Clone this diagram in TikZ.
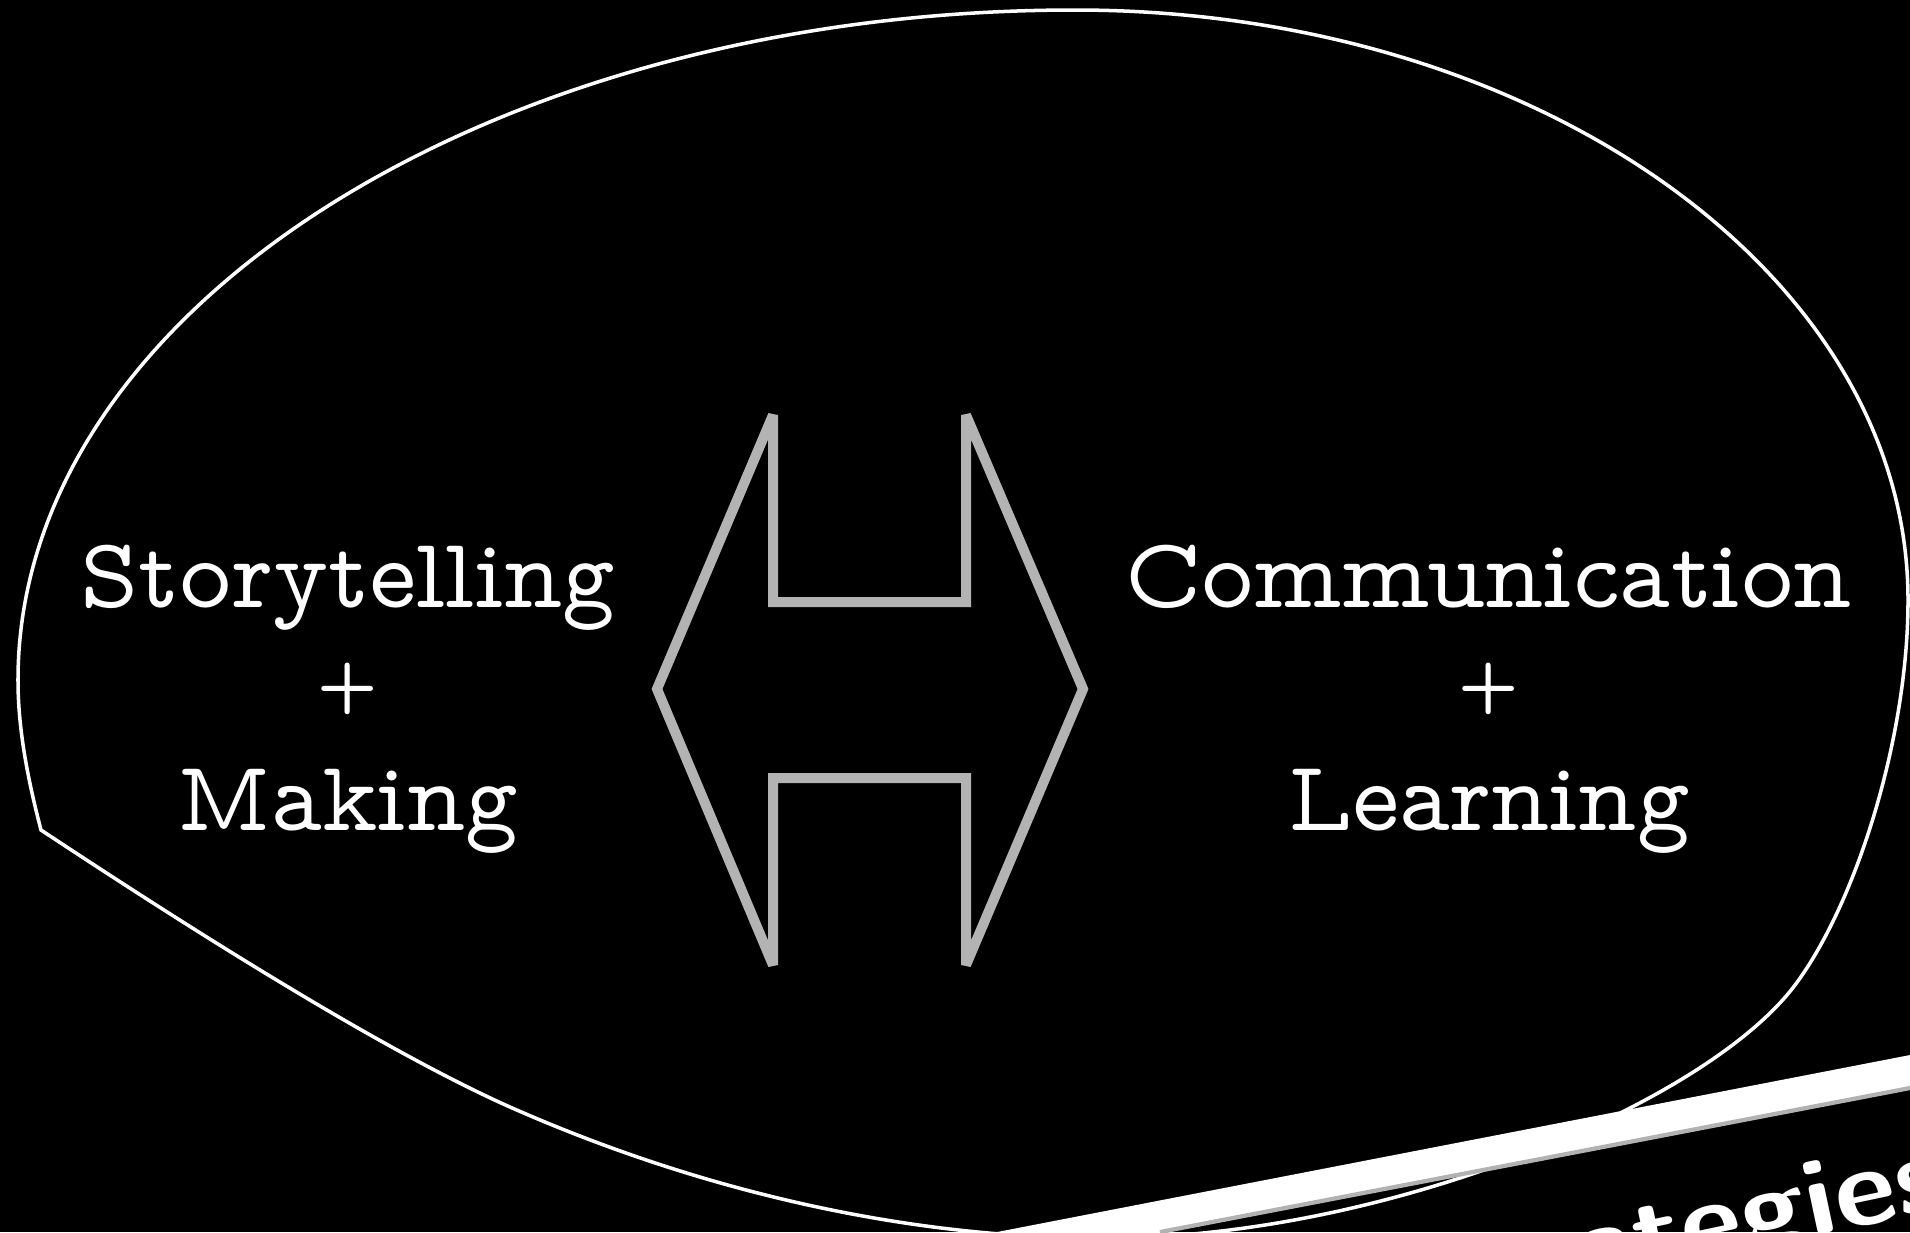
\documentclass[tikz,border=0pt]{standalone}
\usepackage{tikz}
\usetikzlibrary{calc}
\definecolor{arrowgray}{RGB}{179,179,179}

\begin{document}
\begin{tikzpicture}[% one unit = one pixel of the slide, y runs down
					x=0.01cm,y=-0.01cm,
					every node/.style={
						align=center,		% so that "\\" breaks the line
						text=white,
						inner sep=0pt
						},
					blob/.style={draw=white,line width=1pt},
					twoway/.style={draw=arrowgray,line width=2.85pt,line join=miter,miter limit=3},
					wordbox/.style={font=\fontfamily{lmvtt}\fontsize{28.5}{31.7}\selectfont},
					chalk/.style={font=\sffamily\bfseries\fontsize{31}{34}\selectfont}
					]
\newcommand{\plusline}{\raisebox{2pt}{\fontsize{21}{31.7}\selectfont +}}
\useasboundingbox (0,0) rectangle (1910,1232);
\clip (0,0) rectangle (1910,1232);
\fill[black] (0,0) rectangle (1910,1232);
% the thought bubble
\draw[blob] (41,830) .. controls (28,780) and (18,730) .. (18,680)
	.. controls (18,310) and (491,10) .. (1075,10)
	.. controls (1535,10) and (1908,274) .. (1908,600)
	.. controls (1908,740) and (1855,905) .. (1795,985)
	.. controls (1705,1105) and (1380,1240) .. (1100,1238)
	.. controls (900,1238) and (693,1188) .. (510,1107)
	.. controls (364,1042) and (141,896) .. (41,830) -- cycle;
% double arrow in the middle
\draw[twoway] (657,689) -- (773,415) -- (773,602) -- (966,602) -- (966,415) -- (1083,689) -- (966,965) -- (966,778) -- (773,778) -- (773,965) -- cycle;
\node[wordbox](L1) at (348,699) {Storytelling\\\plusline\\Making};
\node[wordbox](R1) at (1489,699) {Communication\\\plusline\\Learning};
% chalk word and paper strip, bottom right
\node[chalk,rotate=12,anchor=base east](S1) at (1952,1207) {\scalebox{1.1}[1]{Strategies}};
\fill[white] (997,1232) -- (1910,1055) -- (1910,1088) -- (1160,1232) -- cycle;
\draw[gray!60,line width=1.2pt] (1160,1232) -- (1910,1088);
\end{tikzpicture}
\end{document}
